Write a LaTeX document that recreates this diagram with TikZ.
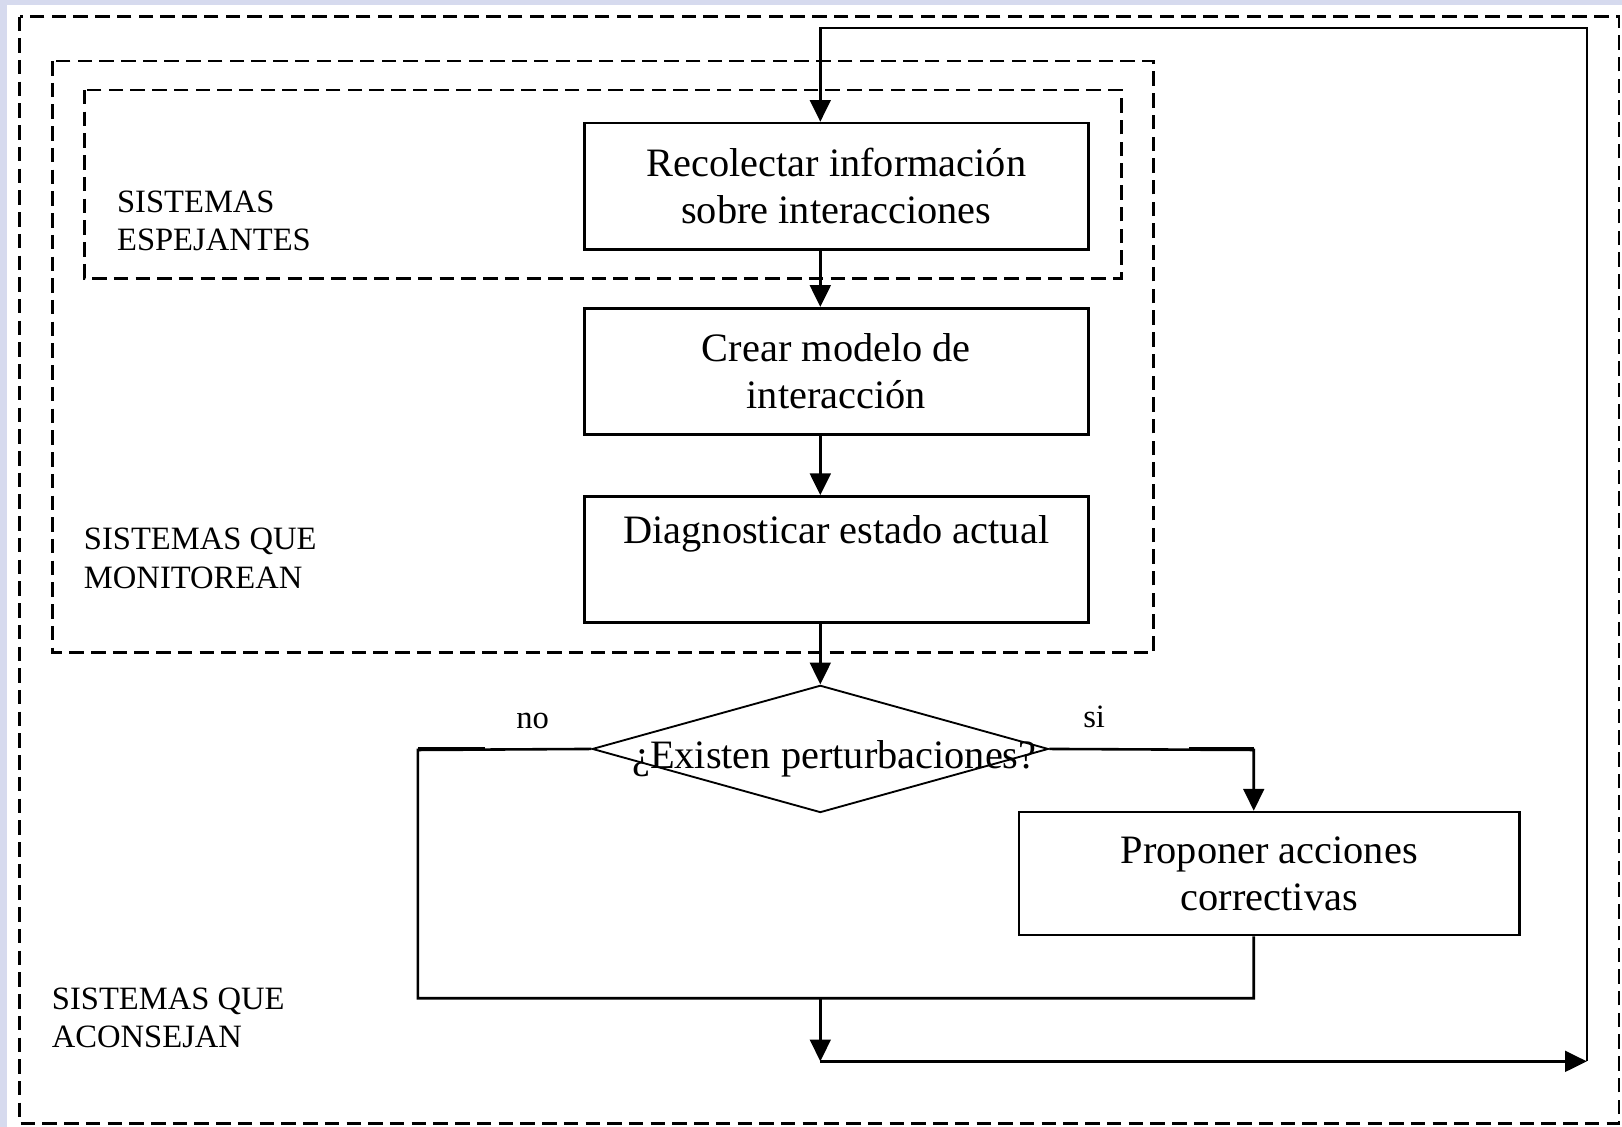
\documentclass[tikz,border=0pt]{standalone}
\usepackage{fontspec}
\setmainfont{Liberation Serif}
\usetikzlibrary{arrows.meta,shapes.geometric}
\definecolor{paper}{RGB}{214,218,238}
\begin{document}
\begin{tikzpicture}[x=1pt,y=1pt,
  line/.style={line width=2.5pt},
  arr/.style={line width=2.5pt,-{Triangle[width=20pt,length=21pt]}},
  frame/.style={draw,line width=2.7pt,dash pattern=on 14pt off 7pt},
  stepbox/.style={draw,line width=2.6pt,rectangle,inner sep=0pt,align=center,
    font=\fontsize{39}{45}\selectfont},
  tag/.style={inner sep=0pt,align=left,font=\fontsize{31.5}{37}\selectfont},
]
\useasboundingbox (0,0) rectangle (1568,-1089);
% paper and sheet
\fill[paper] (0,0) rectangle (1568,-1089);
\fill[white] (7,-5) rectangle (1568,-1089);

% nested system groups
\draw[frame] (19,-16) rectangle (1565,-1086);
\draw[frame] (51,-59) rectangle (1115,-631);
\draw[frame] (82,-87) rectangle (1084,-269);

% group labels (anchored on the baseline of their last line)
\node[tag,anchor=base west] (lblE) at (113,-242) {SISTEMAS\\ESPEJANTES};
\node[tag,anchor=base west] (lblM) at (81,-568.5) {SISTEMAS QUE\\MONITOREAN};
\node[tag,anchor=base west] (lblA) at (50,-1013) {SISTEMAS QUE\\ACONSEJAN};

% process steps
\node[stepbox,minimum width=487pt,minimum height=122pt] (b1) at (808.5,-180)
  {Recolectar información\\sobre interacciones};
\node[stepbox,minimum width=487pt,minimum height=122pt] (b2) at (808.5,-359)
  {Crear modelo de\\interacción};
\node[stepbox,minimum width=487pt,minimum height=122pt] (b3) at (808.5,-541)
  {Diagnosticar estado actual\\\strut};
\node[stepbox,minimum width=484pt,minimum height=119pt] (b5) at (1227,-844.5)
  {Proponer acciones\\correctivas};

% decision
\node[draw,diamond,line width=1.8pt,minimum width=441pt,minimum height=123pt,
  inner sep=0pt] (dec) at (793,-724) {};
\node[inner sep=0pt,anchor=base,font=\fontsize{39}{45}\selectfont] (q)
  at (806.5,-743) {¿Existen perturbaciones?};
\node[tag,anchor=base west] (lno) at (499,-704) {no};
\node[tag,anchor=base west] (lsi) at (1047,-703) {si};

% routing points
\coordinate (sp) at (793,0);
\coordinate (nL) at (404,-725);
\coordinate (nB) at (404,-965);
\coordinate (sR) at (1212,-725);
\coordinate (jn) at (793,-965);
\coordinate (jd) at (793,-1026);
\coordinate (cR) at (1534,-1026);
\coordinate (cT) at (1534,-27);

% main flow
\draw[arr] (b1.south -| sp) -- (b2.north -| sp);
\draw[arr] (b2.south -| sp) -- (b3.north -| sp);
\draw[arr] (b3.south -| sp) -- (dec.north);

% branches
\draw[line] (dec.west) -- (nL) -- (nB) -- (nB -| sR) -- (b5.south -| sR);
\draw[line width=2.2pt] ([yshift=1.5pt]nL) -- ([xshift=65pt,yshift=1.5pt]nL);
\draw[arr] (dec.east) -- (sR) -- (b5.north -| sR);
\draw[line width=2.2pt] ([yshift=1.5pt]sR) -- ([xshift=-63pt,yshift=1.5pt]sR);

% feedback loop
\draw[arr] (jn) -- (jd);
\draw[arr] (jd) -- (cR);
\draw[arr] (cR) -- (cT) -- (cT -| sp) -- (b1.north -| sp);
\end{tikzpicture}
\end{document}
